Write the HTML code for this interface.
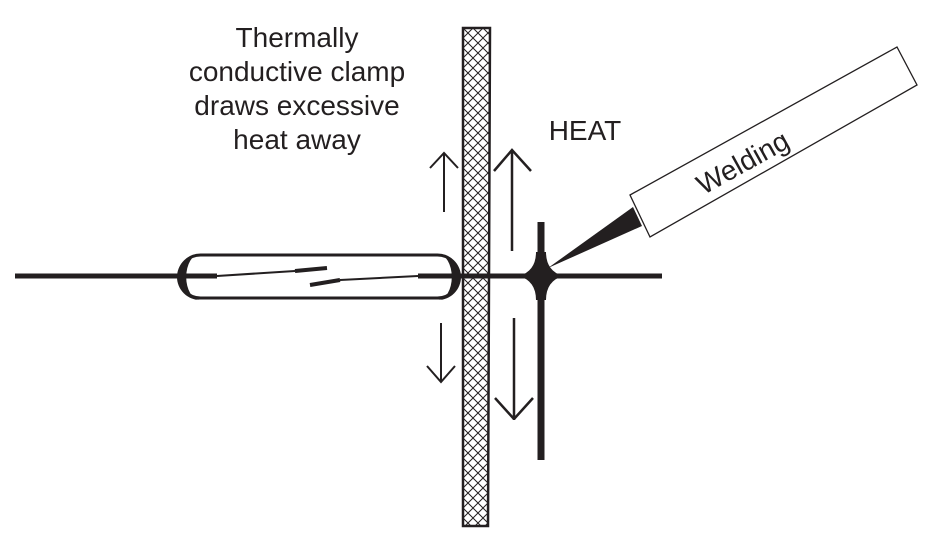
<!DOCTYPE html>
<html><head><meta charset="utf-8"><style>
html,body{margin:0;padding:0;background:#fff;width:939px;height:553px;overflow:hidden}
svg{display:block}
text{font-family:"Liberation Sans",Arial,sans-serif;fill:#231f20}
</style></head><body>
<svg width="939" height="553" viewBox="0 0 939 553" xmlns="http://www.w3.org/2000/svg">
<defs>
<pattern id="hatch" width="10" height="10" patternUnits="userSpaceOnUse" x="463" y="28">
<path d="M0,0 L10,10 M10,0 L0,10" stroke="#231f20" stroke-width="1"/>
</pattern>
</defs>
<g fill="#231f20" text-anchor="middle" font-size="28">
<text x="297" y="47">Thermally</text>
<text x="297" y="81">conductive clamp</text>
<text x="297" y="115">draws excessive</text>
<text x="297" y="149">heat away</text>
</g>
<text x="585" y="140" font-size="28" text-anchor="middle">HEAT</text>

<line x1="15" y1="276" x2="662" y2="276" stroke="#231f20" stroke-width="5"/>
<rect x="179" y="255" width="280" height="43" rx="21.5" fill="#fff" stroke="#231f20" stroke-width="3"/>
<path d="M200,254 A23,23 0 0 0 200,300 A12,20 0 0 1 200,254 Z" fill="#231f20"/>
<path d="M438,254 A23,23 0 0 1 438,300 A12,20 0 0 0 438,254 Z" fill="#231f20"/>
<line x1="185" y1="276" x2="217" y2="276" stroke="#231f20" stroke-width="5"/>
<line x1="418" y1="276" x2="455" y2="276" stroke="#231f20" stroke-width="5"/>
<path d="M217,276 L295,271" stroke="#231f20" stroke-width="2"/>
<path d="M295,271 L327,268" stroke="#231f20" stroke-width="4"/>
<path d="M310,285 L340,280" stroke="#231f20" stroke-width="4"/>
<path d="M340,280 L418,276" stroke="#231f20" stroke-width="2"/>

<path d="M463,28 L490,28 L488,526 L463,526 Z" fill="url(#hatch)" stroke="#231f20" stroke-width="2.5"/>

<g stroke="#231f20" fill="none">
<path d="M444,212 L444,153 M430,168 L444,153 L458,168" stroke-width="2"/>
<path d="M512,251 L512,150 M494,171 L512,150 L531,171" stroke-width="2.5"/>
<path d="M441,323 L441,382 M427,366 L441,382 L455,366" stroke-width="2"/>
<path d="M514,318 L514,420 M495,398 L514,419 M533,398 L514,419" stroke-width="2.5"/>
</g>

<line x1="541" y1="222" x2="541" y2="460" stroke="#231f20" stroke-width="7"/>
<path d="M536,252 Q536,271 519,276 Q536,281 536,300 L546,300 Q546,281 563,276 Q546,271 546,252 Z" fill="#231f20"/>
<path d="M548,268 L633,207 L642,226 Z" fill="#231f20"/>
<path d="M630,195 L897,47 L917,85 L650,237 Z" fill="#fff" stroke="#231f20" stroke-width="1.3"/>
<text x="743" y="172" font-size="28" text-anchor="middle" transform="rotate(-29 743 163)">Welding</text>
</svg>
</body></html>
